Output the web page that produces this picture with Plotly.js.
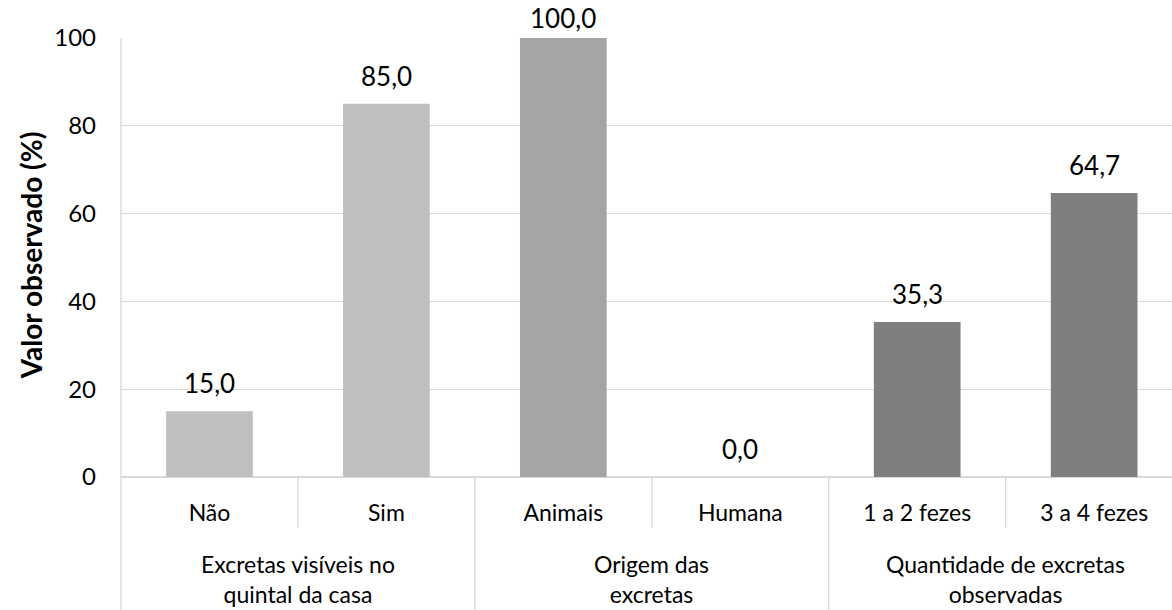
<!DOCTYPE html>
<html>
<head>
<meta charset="utf-8">
<script src="https://cdn.plot.ly/plotly-3.0.1.min.js"></script>
<style>html,body{margin:0;padding:0;background:#fff;}#chart{width:1172px;height:610px;}</style>
</head>
<body>
<div id="chart"></div>
<script>
const categories = ['Não', 'Sim', 'Animais', 'Humana', '1 a 2 fezes', '3 a 4 fezes'];
const values = [15.0, 85.0, 100.0, 0.0, 35.3, 64.7];
const groupNames = ['Excretas visíveis no<br>quintal da casa', 'Origem das<br>excretas', 'Quantidade de excretas<br>observadas'];
const groupOf = [0, 0, 1, 1, 2, 2];
const groupColors = ['#BFBFBF', '#A5A5A5', '#7F7F7F'];
const yTicks = [0, 20, 40, 60, 80, 100];

const FONT = 'Lato, "Open Sans", sans-serif';
const LINE = '#D9D9D9';

const trace = {
  type: 'bar',
  x: categories,
  y: values,
  marker: {color: groupOf.map(g => groupColors[g])},
  hoverinfo: 'none'
};

const annotations = categories.map((c, i) => ({
  x: c, y: values[i], xref: 'x', yref: 'y',
  text: values[i].toFixed(1).replace('.', ','),
  showarrow: false, yanchor: 'bottom', yshift: values[i] >= 99 ? 2 : 10,
  font: {family: FONT, size: 26, color: '#000'}
}));

// group labels centered under their categories
groupNames.forEach((g, gi) => {
  const idx = groupOf.map((v, i) => v === gi ? i : -1).filter(i => i >= 0);
  const center = idx.reduce((a, b) => a + b, 0) / idx.length;
  annotations.push({
    x: center, y: -0.232, xref: 'x', yref: 'paper',
    text: g, showarrow: false, yanchor: 'middle',
    font: {family: FONT, size: 23, color: '#000'}
  });
});

annotations.push({
  x: 0, y: 0.505, xref: 'paper', yref: 'paper', xanchor: 'center', yanchor: 'middle',
  xshift: -90, textangle: -90, showarrow: false,
  text: '<b>Valor observado (%)</b>',
  font: {family: FONT, size: 28, color: '#000'}
});

const shapes = [];
// left axis line down to bottom
shapes.push({type: 'line', xref: 'paper', yref: 'paper', x0: 0, x1: 0, y0: 1, y1: -0.31,
  line: {color: LINE, width: 1.3}});
for (let i = 1; i < categories.length; i++) {
  const isGroup = groupOf[i] !== groupOf[i - 1];
  shapes.push({type: 'line', xref: 'x', yref: 'paper', x0: i - 0.5, x1: i - 0.5,
    y0: 0, y1: isGroup ? -0.31 : -0.116, line: {color: LINE, width: 1.3}});
}

const layout = {
  width: 1172, height: 610,
  margin: {l: 121, r: 0, t: 37.5, b: 133},
  paper_bgcolor: '#fff', plot_bgcolor: '#fff',
  showlegend: false,
  bargap: 0.51,
  font: {family: FONT, color: '#000'},
  xaxis: {
    type: 'category', range: [-0.5, 5.44],
    showgrid: false, showline: false, ticks: '', zeroline: false,
    tickfont: {family: FONT, size: 23, color: '#000'},
    ticklabelstandoff: 20, fixedrange: true
  },
  yaxis: {
    range: [0, 100], tickvals: yTicks, ticktext: yTicks.map(String),
    showgrid: true, gridcolor: LINE, gridwidth: 1.3,
    zeroline: true, zerolinecolor: LINE, zerolinewidth: 1.3,
    showline: false, ticks: '',
    tickfont: {family: FONT, size: 24, color: '#000'},
    ticklabelstandoff: 24, fixedrange: true
  },
  annotations: annotations,
  shapes: shapes
};

Plotly.newPlot('chart', [trace], layout, {displayModeBar: false, staticPlot: true});
</script>
</body>
</html>
